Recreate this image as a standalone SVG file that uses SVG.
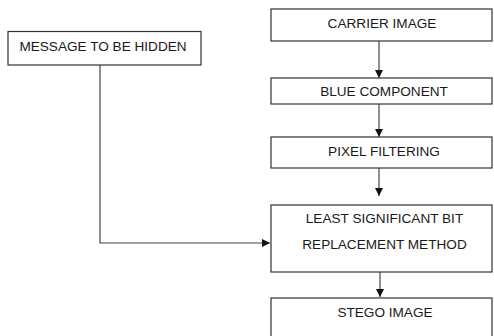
<svg xmlns="http://www.w3.org/2000/svg" width="494" height="336" viewBox="0 0 494 336">
<style>
.box{fill:#fff;stroke:#333;stroke-width:1.2}
.t{font-family:"Liberation Sans",Arial,sans-serif;font-size:13.6px;fill:#1a1a1a;text-anchor:middle}
.c{fill:none;stroke:#444;stroke-width:1.2}
</style>
<defs>
<marker id="ah" viewBox="0 0 10 10" refX="10" refY="5" markerWidth="8" markerHeight="8" markerUnits="userSpaceOnUse" orient="auto">
<path d="M0,0 L10,5 L0,10 z" fill="#111"/>
</marker>
</defs>
<rect width="494" height="336" fill="#fff"/>
<g id="connectors">
<path class="c" d="M100,65 V243 H270" marker-end="url(#ah)"/>
<path class="c" d="M379,41 V78" marker-end="url(#ah)"/>
<path class="c" d="M379,104 V137" marker-end="url(#ah)"/>
<path class="c" d="M379,168 V196" marker-end="url(#ah)"/>
<path class="c" d="M380,272 V297" marker-end="url(#ah)"/>
</g>
<g id="message">
<rect class="box" x="8" y="31.5" width="193" height="33.5"/>
<text class="t" x="103" y="50.5">MESSAGE TO BE HIDDEN</text>
</g>
<g id="carrier">
<rect class="box" x="271" y="9" width="221" height="32"/>
<text class="t" x="382" y="27.5">CARRIER IMAGE</text>
</g>
<g id="blue">
<rect class="box" x="271" y="78" width="221" height="26"/>
<text class="t" x="384" y="96">BLUE COMPONENT</text>
</g>
<g id="pixel">
<rect class="box" x="271" y="137" width="221" height="31"/>
<text class="t" x="384" y="156">PIXEL FILTERING</text>
</g>
<g id="lsb">
<rect class="box" x="271" y="205" width="221" height="67"/>
<text class="t" x="384.5" y="223">LEAST SIGNIFICANT BIT</text>
<text class="t" x="384.5" y="249">REPLACEMENT METHOD</text>
</g>
<g id="stego">
<rect class="box" x="271" y="298" width="221" height="50"/>
<text class="t" x="385" y="317">STEGO IMAGE</text>
</g>
</svg>
